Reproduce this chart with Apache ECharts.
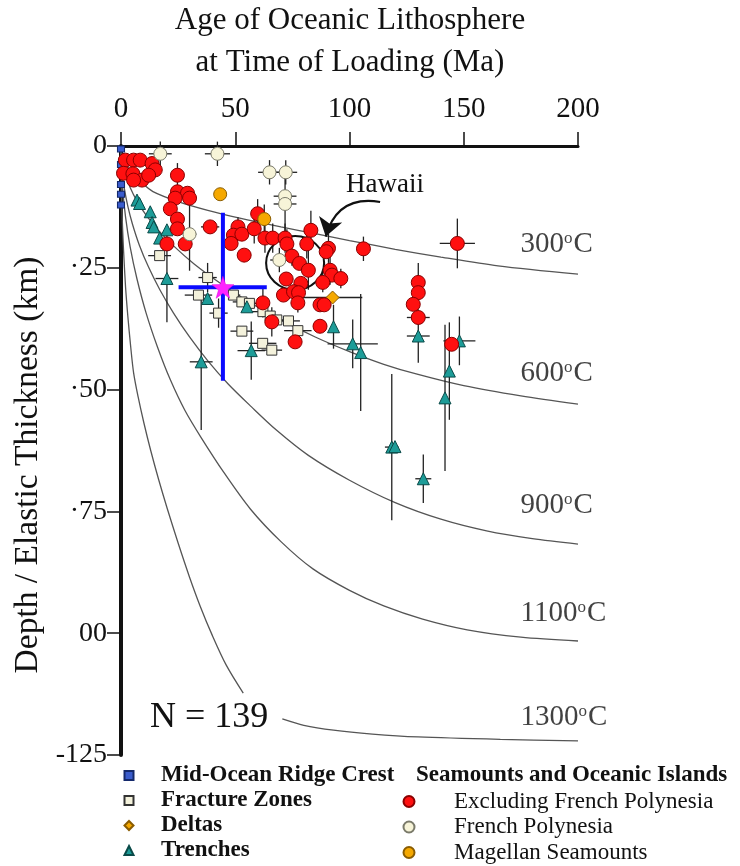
<!DOCTYPE html>
<html>
<head>
<meta charset="utf-8">
<script src="https://cdn.jsdelivr.net/npm/echarts@6.0.0/dist/echarts.min.js"></script>
<style>
html,body{margin:0;padding:0;background:#ffffff;}
#chart{width:740px;height:866px;}
</style>
</head>
<body>
<div id="chart"></div>
<script>
// ---------------- data ----------------
const xTickValues = [0, 50, 100, 150, 200];
const yTickValues = [0, -25, -50, -75, -100, -125];
const yTickLabels = ['0', '\u00b725', '\u00b750', '\u00b775', '00', '-125'];

// [age (Ma), depth (km), age error, depth error]
const midOceanRidge = [[0,-0.6],[0,-3.8],[0,-7.9],[0,-9.9],[0,-12.1]];

const fractureZones = [
  [16.9,-22.5,5,0],[37.9,-27.0,4,3],[33.9,-30.6,6,0],[49.2,-30.6,3,0],[52.9,-32.0,4,0],
  [56.2,-32.3,3,0],[42.7,-34.3,4,3],[62.1,-34.0,5,0],[65.3,-34.9,3,0],[68.2,-35.7,5,0],
  [73.3,-35.9,5,0],[77.4,-37.9,6,0],[52.9,-38.0,5,0],[62.0,-40.5,6,0],[66.0,-41.9,4.5,0]
];

const deltas = [[92.6,-31.1,13,0]];

const trenches = [
  [7.0,-11.1,0,0],[8.1,-11.8,0,0],[12.8,-13.5,0,0],[13.6,-15.7,0,0],[14.3,-16.6,0,0],
  [20.1,-17.2,0,0],[16.9,-18.9,0,0],[20.1,-27.2,5,9],[37.9,-31.3,0,0],[35.1,-44.3,5,14],
  [55.1,-33.0,0,0],[57.0,-42.0,6,6],[93.0,-37.1,0,4.5],[101.4,-40.6,11,5],[104.9,-42.4,0,12],
  [130.1,-39.0,5,5.5],[148.1,-40.0,7,5],[143.7,-46.2,0,10],[141.8,-51.7,0,15],
  [118.5,-61.8,3,15],[119.9,-61.7,0,0],[132.3,-68.3,3.5,5]
];

const excludingFrenchPolynesia = [
  [1.9,-2.9,0,0],[5.5,-2.9,0,0],[8.4,-2.9,0,0],[1.1,-5.6,0,0],[5.2,-5.7,0,0],[9.2,-7.0,0,0],
  [5.5,-7.0,0,0],[13.6,-3.6,0,0],[15.0,-4.9,3,0],[12.1,-6.0,0,0],
  [24.7,-6.0,0,2.5],[24.7,-9.4,0,0],[29.1,-9.7,0,0],[23.7,-10.7,0,0],[30.0,-10.7,0,0],
  [21.6,-12.9,0,0],[24.7,-15.0,3,0],[24.7,-17.0,3,0],[20.1,-20.1,0,0],[28.1,-20.1,0,0],
  [39.0,-16.6,4,0],[51.2,-16.6,0,2],[49.2,-18.3,0,0],[52.9,-18.1,0,0],[48.2,-20.0,0,0],
  [58.3,-17.0,0,3],[59.8,-13.9,3,3],[53.9,-22.4,0,0],
  [63.0,-18.9,0,3],[66.4,-18.9,0,3],[71.8,-18.9,0,3],[72.6,-20.1,0,3],[83.1,-17.3,0,4],
  [81.3,-20.1,0,3],[90.8,-21.0,0,3],[89.8,-21.7,0,0],[106.1,-21.1,0,2.5],[147.2,-20.0,7.7,5.1],
  [74.8,-22.6,0,2],[78.1,-24.1,0,0],[82.0,-25.5,0,4],[72.3,-27.3,0,0],[78.7,-28.2,0,0],
  [91.5,-25.5,0,3],[92.3,-26.5,0,0],[96.2,-27.2,0,2],[88.3,-28.0,0,2],[71.1,-30.6,0,0],
  [75.5,-29.9,0,0],[77.7,-30.1,0,2],[77.4,-32.2,0,2],[87.1,-32.6,0,0],[88.9,-32.6,0,0],
  [62.1,-32.2,0,3],[87.1,-37.0,0,0],[76.2,-40.2,0,0],[66.0,-36.1,0,3],
  [130.1,-28.0,0,4],[130.1,-30.1,0,0],[127.9,-32.5,0,0],[130.1,-35.2,5,0],[144.7,-40.7,0,0]
];

const frenchPolynesia = [
  [17.2,-1.6,5,2.5],[42.2,-1.6,5.5,2.5],[65.0,-5.4,5,2.5],[72.1,-5.4,5,2.5],
  [71.8,-10.3,5,0],[71.8,-11.9,5,7],[30.0,-18.1,3,7.5],[69.3,-23.4,4,2.5]
];

const magellanSeamounts = [[43.4,-9.9,0,0],[62.7,-15.0,0,3]];

// mean: [age, depth, ageMin, ageMax, depthTop, depthBottom]
const meanEstimate = [[44.6,-29.0,25.2,63.8,-13.7,-48.2]];

// isotherms (age Ma, depth km)
const isotherm300 = [[0,-1],[1,-2.5],[4,-5],[9,-7.5],[14,-9.35],[25,-11.4],[38,-13.2],[52,-14.8],
  [70,-16.6],[85,-18.0],[100,-19.4],[120,-21.2],[140,-22.8],[165,-24.6],[200,-26.3]];
const isotherm600 = [[0,-1],[1,-4.3],[2,-6.0],[4,-8.5],[7,-11.3],[11,-14.2],[16,-17.1],[23,-20.5],
  [32,-24.2],[43,-28.0],[56,-32.0],[70,-35.7],[85,-39.2],[100,-42.2],[115,-44.8],[130,-46.9],
  [150,-49.2],[175,-51.3],[200,-53.0]];
const isotherm900 = [[0,-1],[0.5,-5.1],[1.5,-8.8],[3,-12.4],[5,-16.0],[8,-20.3],[12,-24.8],[17,-29.5],
  [23,-34.3],[30,-39.2],[38,-44.1],[47,-48.9],[57,-53.5],[68,-58.3],[82,-63.5],[100,-68.6],
  [120,-73.2],[140,-76.6],[160,-79.0],[180,-80.6],[200,-81.7]];
const isotherm1100 = [[0,-1],[0.7,-8.6],[2,-14.6],[4,-20.7],[7,-27.3],[11,-34.3],[16,-41.3],[21.6,-48],
  [28,-54.3],[35,-59.8],[45,-67],[56.6,-74.5],[70,-81.2],[84,-86.8],[100,-91.2],[115,-94.4],
  [132,-97.1],[151.5,-99.3],[175,-100.8],[200,-101.6]];
const isotherm1300a = [[0,-1],[0.3,-11],[0.7,-17],[1.1,-21.3],[2,-29],[3,-35],[4.2,-41],[5.5,-46.5],
  [7.5,-51.5],[10,-56.8],[13,-62.5],[16.5,-68.5],[20.3,-74.5],[25,-81.5],[30,-88.5],[34.7,-94.5],
  [40,-100.5],[46,-106.5],[53.5,-112.3]];
const isotherm1300b = [[70.6,-117.6],[80,-118.9],[93,-119.9],[110,-120.7],[130,-121.3],[166,-121.8],[200,-122.1]];
const isothermNames = ['300', '600', '900', '1100', '1300'];

const hawaiiCircleCenter = [76.2, -24.0];
const hawaiiArrowStart = [113.4, -11.5];
const hawaiiArrowEnd = [89.6, -18.6];

// ---------------- chart ----------------
const serif = 'Liberation Serif';
const INK = '#111111';
const chart = echarts.init(document.getElementById('chart'), null, {renderer: 'canvas'});

function scatter(name, pts, symbol, size, fill, border, z) {
  return {
    type: 'scatter', name, symbol, symbolSize: size, z,
    data: pts.map(p => [p[0], p[1]]),
    itemStyle: {color: fill, borderColor: border, borderWidth: 1, opacity: 1},
    emphasis: {disabled: true}
  };
}

const allWithErrors = [].concat(fractureZones, deltas, trenches, excludingFrenchPolynesia,
  frenchPolynesia, magellanSeamounts);

const errorBars = {
  type: 'custom', silent: true, z: 2, clip: false,
  encode: {x: 0, y: 1},
  data: allWithErrors.filter(p => (p[2] || 0) > 0 || (p[3] || 0) > 0)
                     .map(p => [p[0], p[1], p[2] || 0, p[3] || 0]),
  renderItem: function (params, api) {
    const x = api.value(0), y = api.value(1), ex = api.value(2), ey = api.value(3);
    const st = {stroke: '#222222', lineWidth: 1.3};
    const kids = [];
    if (ex > 0) {
      const a = api.coord([x - ex, y]), b = api.coord([x + ex, y]);
      kids.push({type: 'line', shape: {x1: a[0], y1: a[1], x2: b[0], y2: b[1]}, style: st});
    }
    if (ey > 0) {
      const a = api.coord([x, y + ey]), b = api.coord([x, y - ey]);
      kids.push({type: 'line', shape: {x1: a[0], y1: a[1], x2: b[0], y2: b[1]}, style: st});
    }
    return {type: 'group', children: kids};
  }
};

const meanCross = {
  type: 'custom', silent: true, z: 7, clip: false,
  encode: {x: 0, y: 1},
  data: meanEstimate,
  renderItem: function (params, api) {
    const x = api.value(0), y = api.value(1);
    const l = api.coord([api.value(2), y]), r = api.coord([api.value(3), y]);
    const t = api.coord([x, api.value(4)]), b = api.coord([x, api.value(5)]);
    const st = {stroke: '#0a0aff', lineWidth: 4};
    return {type: 'group', children: [
      {type: 'line', shape: {x1: l[0], y1: l[1], x2: r[0], y2: r[1]}, style: st},
      {type: 'line', shape: {x1: t[0], y1: t[1], x2: b[0], y2: b[1]}, style: st}
    ]};
  }
};

const starPath = 'path://M0,-10L2.35,-3.24L9.51,-3.09L3.8,1.24L5.88,8.09L0,4L-5.88,8.09L-3.8,1.24L-9.51,-3.09L-2.35,-3.24Z';

function curve(pts) {
  return {
    type: 'line', data: pts, smooth: 0.3, showSymbol: false, symbol: 'none',
    silent: true, z: 1, clip: true,
    lineStyle: {color: '#555555', width: 1.3}
  };
}

const curveEnds = [isotherm300, isotherm600, isotherm900, isotherm1100, isotherm1300b];
const labelOffsets = [[-57, -29], [-57, -30], [-57, -38], [-57, -27], [-57, -23]];

const isothermLabels = {
  type: 'scatter', silent: true, z: 9, symbolSize: 1,
  itemStyle: {color: 'rgba(0,0,0,0)'},
  data: curveEnds.map((c, i) => ({
    value: c[c.length - 1],
    label: {
      show: true, position: labelOffsets[i], align: 'left', verticalAlign: 'middle',
      formatter: isothermNames[i] + '{o|o}C',
      fontFamily: serif, fontSize: 29, color: INK,
      rich: {o: {fontFamily: serif, fontSize: 17, color: INK, padding: [0, 1, 12, 0]}}
    }
  }))
};

const option = {
  animation: false,
  backgroundColor: '#ffffff',
  title: [
    {text: 'Age of Oceanic Lithosphere\nat Time of Loading (Ma)', left: 350, top: 0, textAlign: 'center', padding: 0,
     textStyle: {fontFamily: serif, fontSize: 31, fontWeight: 'normal', color: INK, lineHeight: 42}},
    {text: 'Hawaii', left: 346, top: 171, padding: 0,
     textStyle: {fontFamily: serif, fontSize: 27, fontWeight: 'normal', color: INK}},
    {text: 'N = 139', left: 150, top: 700, padding: 0,
     textStyle: {fontFamily: serif, fontSize: 36, fontWeight: 'normal', color: INK}},
    {text: 'Seamounts and Oceanic Islands', left: 416, top: 764, padding: 0,
     textStyle: {fontFamily: serif, fontSize: 23, fontWeight: 'bold', color: INK}}
  ],
  legend: [
    {orient: 'vertical', left: 123.5, top: 764, itemWidth: 9, itemHeight: 9, itemGap: 2, padding: 0,
     selectedMode: false, symbolKeepAspect: true,
     textStyle: {fontFamily: serif, fontSize: 23, fontWeight: 'bold', color: INK, lineHeight: 23,
                 padding: [0, 0, 0, 22.5]},
     data: ['Mid-Ocean Ridge Crest', 'Fracture Zones', 'Deltas', 'Trenches']},
    {orient: 'vertical', left: 402.5, top: 790, itemWidth: 11, itemHeight: 11, itemGap: 2.5, padding: 0,
     selectedMode: false, symbolKeepAspect: true,
     textStyle: {fontFamily: serif, fontSize: 23, fontWeight: 'normal', color: INK, lineHeight: 23,
                 padding: [0, 0, 0, 34.5]},
     data: ['Excluding French Polynesia', 'French Polynesia', 'Magellan Seamounts']}
  ],
  grid: {left: 121, right: 162, top: 146, bottom: 111, containLabel: false},
  xAxis: {
    type: 'value', position: 'top', min: 0, max: 200, interval: 50,
    axisLine: {show: true, onZero: false, lineStyle: {color: INK, width: 3}},
    axisTick: {show: true, inside: false, length: 14, lineStyle: {color: INK, width: 1.5}},
    axisLabel: {margin: 22, fontFamily: serif, fontSize: 29, color: INK,
      formatter: v => xTickValues.indexOf(v) >= 0 ? String(v) : ''},
    splitLine: {show: false}
  },
  yAxis: {
    type: 'value', min: -125, max: 0, interval: 25,
    name: 'Depth / Elastic Thickness (km)', nameLocation: 'middle', nameRotate: 90, nameGap: 70,
    nameTextStyle: {fontFamily: serif, fontSize: 33.5, color: INK, padding: [0, 29, 0, 0]},
    axisLine: {show: true, onZero: false, lineStyle: {color: INK, width: 4}},
    axisTick: {show: true, inside: false, length: 14, lineStyle: {color: INK, width: 1.5}},
    axisLabel: {margin: 14, fontFamily: serif, fontSize: 28, color: INK,
      formatter: v => { const i = yTickValues.indexOf(v); return i >= 0 ? yTickLabels[i] : ''; }},
    splitLine: {show: false}
  },
  series: [
    curve(isotherm300), curve(isotherm600), curve(isotherm900), curve(isotherm1100),
    curve(isotherm1300a), curve(isotherm1300b),
    errorBars,
    {type: 'scatter', silent: true, z: 3, data: [hawaiiCircleCenter], symbol: 'circle', symbolSize: [58, 54],
     itemStyle: {color: 'rgba(0,0,0,0)', borderColor: '#111111', borderWidth: 2, opacity: 1}},
    scatter('Mid-Ocean Ridge Crest', midOceanRidge, 'rect', [7, 6], '#3a5ccc', '#14296b', 5),
    scatter('Fracture Zones', fractureZones, 'rect', 10, '#f4f2dc', '#333333', 4),
    scatter('Deltas', deltas, 'diamond', 13, '#f5a800', '#8a5c00', 5),
    scatter('Trenches', trenches, 'triangle', 12, '#1d9c98', '#0a4a48', 5),
    scatter('Excluding French Polynesia', excludingFrenchPolynesia, 'circle', 14, '#ff1010', '#8a0000', 6),
    scatter('French Polynesia', frenchPolynesia, 'circle', 13, '#f7f4d8', '#7a7a6a', 6),
    scatter('Magellan Seamounts', magellanSeamounts, 'circle', 13, '#f5a800', '#8a5c00', 6),
    meanCross,
    {type: 'scatter', silent: true, z: 8, data: meanEstimate.map(p => [p[0], p[1]]), symbol: starPath,
     symbolSize: 22, itemStyle: {color: '#ff22ff', borderColor: '#dd00dd', borderWidth: 0.5, opacity: 1}},
    {type: 'lines', coordinateSystem: 'cartesian2d', silent: true, z: 9,
     symbol: ['none', 'arrow'], symbolSize: 18,
     lineStyle: {color: '#111111', width: 2.2, curveness: -0.45, opacity: 1},
     data: [{coords: [hawaiiArrowStart, hawaiiArrowEnd]}]},
    isothermLabels
  ]
};

chart.setOption(option);
</script>
</body>
</html>
